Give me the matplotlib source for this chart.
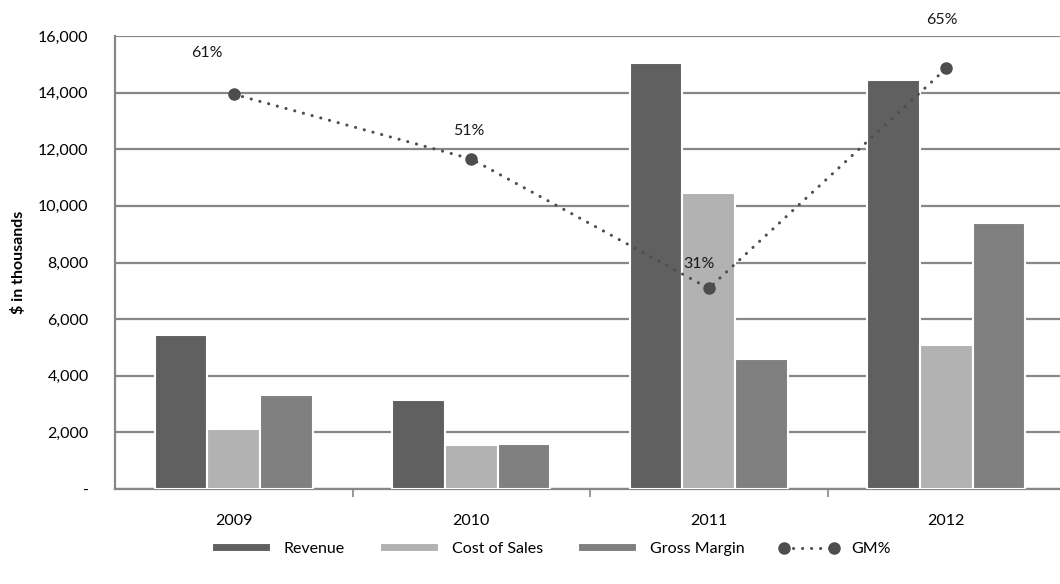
import numpy as np
import matplotlib
matplotlib.use("Agg")
from matplotlib import pyplot as plt
from matplotlib.ticker import FuncFormatter

plt.rcParams['font.family'] = ['Lato', 'DejaVu Sans']

years = ['2009', '2010', '2011', '2012']
revenue = [5450, 3150, 15050, 14450]
cost_of_sales = [2130, 1550, 10450, 5070]
gross_margin = [3320, 1600, 4600, 9380]
gm_pct = [0.61, 0.51, 0.31, 0.65]
gm_labels = ['61%', '51%', '31%', '65%']

# label nudges in points (x, y) from each GM% marker
label_offsets = [(-19, 30), (-1.5, 20), (-7, 17.5), (-3, 34.5)]

fs = 11.5
fig = plt.figure(figsize=(10.6, 5.84), dpi=100)
ax = fig.add_axes([115/1060, (584-489)/584, 950/1060, (489-36)/584])

x = np.arange(len(years))
w = 1/4.5
grid_c = '#878787'
ax.bar(x - w, revenue, w, color='#606060', edgecolor='white', linewidth=1.5, zorder=3, label='Revenue')
ax.bar(x, cost_of_sales, w, color='#b2b2b2', edgecolor='white', linewidth=1.5, zorder=3, label='Cost of Sales')
ax.bar(x + w, gross_margin, w, color='#808080', edgecolor='white', linewidth=1.5, zorder=3, label='Gross Margin')

ax.set_xlim(-0.5, 3.5)
ax.set_ylim(0, 16000)
ax.set_yticks(np.arange(0, 16001, 2000))
ax.yaxis.set_major_formatter(FuncFormatter(lambda v, p: '-' if v == 0 else '{:,.0f}'.format(v)))
ax.grid(axis='y', color=grid_c, linewidth=1.6, zorder=0)
ax.set_axisbelow(True)
ax.set_xticks(x)
ax.set_xticklabels(years)
ax.set_xticks([0.5, 1.5, 2.5], minor=True)
ax.tick_params(axis='x', which='major', length=0, pad=18, labelsize=fs)
ax.tick_params(axis='x', which='minor', length=6, color=grid_c, width=1.2)
ax.tick_params(axis='y', length=0, pad=19, labelsize=fs)
for s in ['top', 'right']:
    ax.spines[s].set_visible(False)
for s in ['left', 'bottom']:
    ax.spines[s].set_color(grid_c)
    ax.spines[s].set_linewidth(1.6)
ax.set_ylabel('$ in thousands', fontsize=fs, fontweight='bold', labelpad=9)

# GM% on a hidden secondary scale, round dots for the line
ax2 = ax.twinx()
ax2.set_ylim(0, 0.70)
ax2.axis('off')
ln, = ax2.plot(x, gm_pct, linestyle=(0, (0.05, 2.9)), color='#4d4d4d', linewidth=2.2,
               dash_capstyle='round', marker='o', markersize=8, label='GM%', zorder=5)
for xi, yi, lab, off in zip(x, gm_pct, gm_labels, label_offsets):
    ax2.annotate(lab, (xi, yi), xytext=off, textcoords='offset points',
                 ha='center', va='center', fontsize=fs, color='#1a1a1a')

handles = ax.get_legend_handles_labels()[0] + [ln]
labels = ['Revenue', 'Cost of Sales', 'Gross Margin', 'GM%']
fig.legend(handles, labels, loc='center', bbox_to_anchor=(0.52, 1 - 549/584), ncol=4,
           frameon=False, fontsize=fs, handlelength=3.7, handleheight=0.45,
           columnspacing=2.2, handletextpad=0.8, numpoints=2)

fig.savefig('out.png', dpi=100)
